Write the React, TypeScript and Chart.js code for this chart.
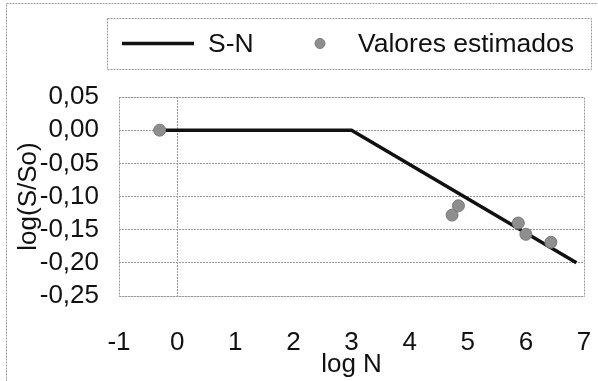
import React, { useEffect, useRef } from "react";
import { Chart, registerables } from "chart.js";

Chart.register(...registerables);

const snX = [-0.3, 3, 6.87];
const snY = [0, 0, -0.2];
const estX = [-0.3, 4.73, 4.84, 5.87, 6.0, 6.43];
const estY = [0, -0.128, -0.114, -0.14, -0.157, -0.169];
const seriesNames = ["S-N", "Valores estimados"];
const xTitle = "log N";
const yTitle = "log(S/So)";

const FONT = "'Liberation Sans', Arial, sans-serif";
const GRID = "#9a9a9a";
const POINT_FILL = "#8e8e8e";
const POINT_BORDER = "#7a7a7a";

const framePlugin = {
  id: "frame",
  beforeDraw(chart: any) {
    const ctx = chart.ctx;
    ctx.save();
    ctx.fillStyle = "#ffffff";
    ctx.fillRect(0, 0, chart.width, chart.height);
    ctx.strokeStyle = GRID;
    ctx.lineWidth = 1;
    ctx.setLineDash([2, 1]);
    ctx.strokeRect(6.5, 3.5, chart.width + 10, chart.height + 10);
    ctx.restore();
  },
  afterDraw(chart: any) {
    const ctx = chart.ctx;
    const a = chart.chartArea;
    ctx.save();
    ctx.strokeStyle = GRID;
    ctx.lineWidth = 1;
    ctx.setLineDash([2, 1]);
    ctx.strokeRect(Math.round(a.left) + 0.5, Math.round(a.top) + 0.5, Math.round(a.right - a.left), Math.round(a.bottom - a.top));
    const lx = 107, ly = 18, lw = 484, lh = 51;
    ctx.strokeRect(lx + 0.5, ly + 0.5, lw, lh);
    ctx.setLineDash([]);
    const cy = ly + lh / 2;
    ctx.strokeStyle = "#111111";
    ctx.lineWidth = 3.5;
    ctx.beginPath();
    ctx.moveTo(122, cy);
    ctx.lineTo(194, cy);
    ctx.stroke();
    ctx.fillStyle = "#111111";
    ctx.font = `26.5px ${FONT}`;
    ctx.textBaseline = "middle";
    ctx.textAlign = "left";
    ctx.fillText(seriesNames[0], 208, cy + 1);
    ctx.beginPath();
    ctx.arc(320, cy, 5, 0, Math.PI * 2);
    ctx.fillStyle = POINT_FILL;
    ctx.fill();
    ctx.lineWidth = 1;
    ctx.strokeStyle = POINT_BORDER;
    ctx.stroke();
    ctx.fillStyle = "#111111";
    ctx.fillText(seriesNames[1], 358, cy + 1);
    ctx.restore();
  },
};

export default function App() {
  const ref = useRef<HTMLCanvasElement | null>(null);
  useEffect(() => {
    if (!ref.current) return;
    const chart = new Chart(ref.current, {
      type: "scatter",
      data: {
        datasets: [
          {
            type: "line",
            label: seriesNames[0],
            data: snX.map((x, i) => ({ x, y: snY[i] })),
            borderColor: "#111111",
            borderWidth: 3.5,
            pointRadius: 0,
            fill: false,
            tension: 0,
            order: 2,
          } as any,
          {
            type: "scatter",
            label: seriesNames[1],
            data: estX.map((x, i) => ({ x, y: estY[i] })),
            backgroundColor: POINT_FILL,
            borderColor: POINT_BORDER,
            borderWidth: 1,
            pointRadius: 6,
            order: 1,
          },
        ],
      },
      options: {
        animation: false,
        responsive: false,
        devicePixelRatio: 1,
        layout: { padding: { top: 97, right: 14, left: 0, bottom: 0 } },
        plugins: { legend: { display: false }, tooltip: { enabled: false } },
        scales: {
          x: {
            type: "linear",
            min: -1,
            max: 7,
            ticks: {
              stepSize: 1,
              autoSkip: false,
              maxRotation: 0,
              padding: 31,
              color: "#111111",
              font: { family: FONT, size: 26 },
            },
            grid: {
              drawTicks: false,
              color: (c: any) => (c.tick && c.tick.value === 0 ? GRID : "rgba(0,0,0,0)"),
              lineWidth: 1,
            },
            border: { display: false, dash: [2, 1] },
            title: {
              display: true,
              text: xTitle,
              color: "#111111",
              font: { family: FONT, size: 26 },
              padding: { top: 0, bottom: 1 },
            },
            afterFit: (s: any) => {
              s.height = 85;
              s.paddingLeft = 0;
              s.paddingRight = 0;
            },
          },
          y: {
            type: "linear",
            min: -0.25,
            max: 0.05,
            ticks: {
              stepSize: 0.05,
              autoSkip: false,
              padding: 20,
              color: "#111111",
              font: { family: FONT, size: 26 },
              callback: (v: any) => {
                const n = Math.abs(v) < 1e-9 ? 0 : Number(v);
                return n.toFixed(2).replace(".", ",");
              },
            },
            grid: { drawTicks: false, color: GRID, lineWidth: 1 },
            border: { display: false, dash: [2, 1] },
            title: {
              display: true,
              text: yTitle,
              color: "#111111",
              font: { family: FONT, size: 26 },
              padding: { top: 13, bottom: 0 },
            },
            afterFit: (s: any) => {
              s.width = 119;
              s.paddingTop = 0;
              s.paddingBottom = 0;
            },
          },
        },
      },
      plugins: [framePlugin],
    });
    return () => chart.destroy();
  }, []);
  return (
    <div style={{ position: "fixed", left: 0, top: 0, width: 598, height: 381 }}>
      <canvas ref={ref} width={598} height={381} style={{ width: 598, height: 381, display: "block" }} />
    </div>
  );
}
